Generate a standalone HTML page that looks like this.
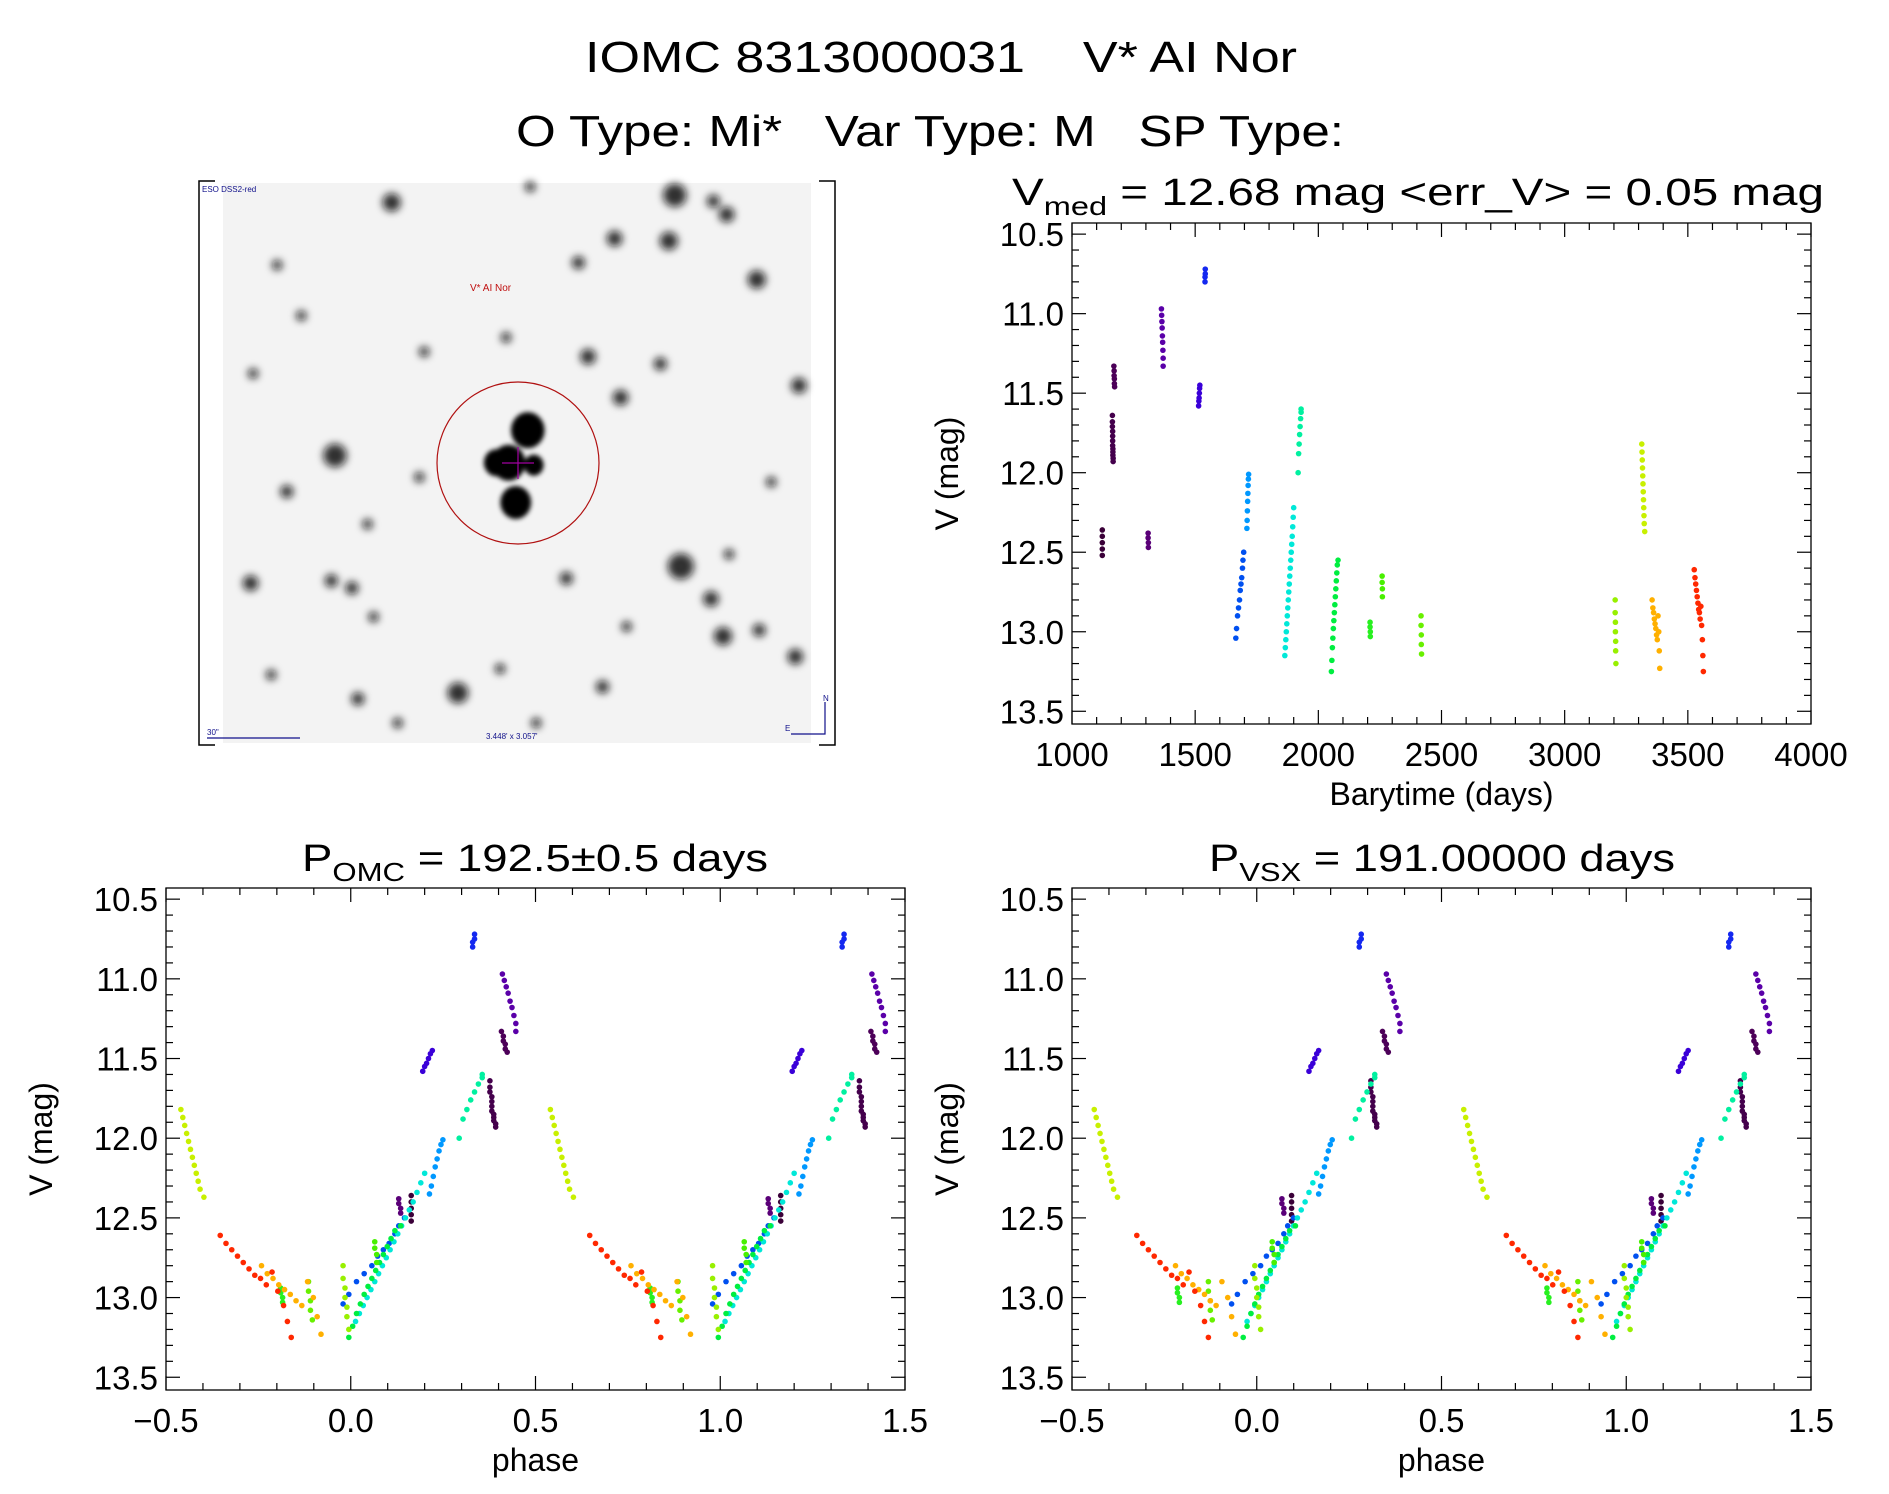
<!DOCTYPE html>
<html><head><meta charset="utf-8"><style>
html,body{margin:0;padding:0;background:#fff;}
svg{display:block;font-family:"Liberation Sans",sans-serif;}
text{white-space:pre;}
</style></head><body>
<svg id="root" width="1889" height="1494" viewBox="0 0 1889 1494" xmlns="http://www.w3.org/2000/svg">
<defs><filter id="blur" x="-50%" y="-50%" width="200%" height="200%"><feGaussianBlur stdDeviation="4"/></filter>
<filter id="blur2" x="-50%" y="-50%" width="200%" height="200%"><feGaussianBlur stdDeviation="2.5"/></filter></defs>
<text x="941" y="72" font-size="44" text-anchor="middle" textLength="712" lengthAdjust="spacingAndGlyphs" xml:space="preserve">IOMC 8313000031    V* AI Nor</text>
<text x="930" y="146" font-size="44" text-anchor="middle" textLength="828" lengthAdjust="spacingAndGlyphs" xml:space="preserve">O Type: Mi*   Var Type: M   SP Type:</text>
<g id="img"></g>
<g id="p1"></g>
<g id="p2"></g>
<g id="p3"></g>
</svg>
<script>
// Light-curve data: one array per season (barytime days), magnitudes, and colors
const seasonTimes = [
 [1123,1123,1123,1123,1123],
 [1164,1164,1164,1165,1165,1165,1165,1166,1166,1166,1167,1167],
 [1170,1171,1171,1172,1172,1173],
 [1309,1309,1310,1310],
 [1363,1364,1365,1366,1367,1368,1369,1370,1370],
 [1514,1515,1516,1517,1518,1519],
 [1540,1540,1541,1541],
 [1665,1668,1672,1676,1680,1683,1686,1689,1692,1694,1697],
 [1710,1711,1712,1713,1714,1715,1716,1717],
 [1864,1866,1868,1870,1872,1874,1876,1878,1880,1882,1884,1886,1888,1890,1892,1894,1896,1898,1900],
 [1918,1920,1922,1924,1926,1928,1930,1930],
 [2053,2055,2057,2059,2061,2063,2065,2067,2069,2071,2073,2075,2077,2080],
 [2210,2210,2211,2211],
 [2259,2259,2260,2260],
 [2417,2417,2418,2418,2419],
 [3205,3205,3206,3206,3207,3207,3208],
 [3313,3314,3315,3316,3317,3318,3319,3320,3321,3322,3323,3325],
 [3355,3358,3361,3364,3367,3370,3373,3376,3379,3382,3384,3386],
 [3526,3529,3532,3535,3538,3541,3544,3547,3550,3553,3556,3559,3561,3563]
];
const seasonMags = [
 [12.36,12.40,12.44,12.48,12.52],
 [11.64,11.68,11.71,11.74,11.77,11.80,11.83,11.85,11.87,11.89,11.91,11.93],
 [11.33,11.36,11.39,11.41,11.44,11.46],
 [12.38,12.41,12.44,12.47],
 [10.97,11.01,11.05,11.09,11.14,11.18,11.23,11.28,11.33],
 [11.58,11.55,11.53,11.50,11.47,11.45],
 [10.80,10.77,10.75,10.72],
 [13.04,12.98,12.90,12.85,12.80,12.74,12.70,12.66,12.60,12.55,12.50],
 [12.35,12.30,12.24,12.18,12.13,12.08,12.04,12.01],
 [13.15,13.10,13.05,13.00,12.95,12.90,12.85,12.80,12.75,12.70,12.65,12.60,12.55,12.50,12.45,12.40,12.34,12.28,12.22],
 [12.00,11.88,11.82,11.76,11.71,11.66,11.62,11.60],
 [13.25,13.18,13.10,13.04,12.98,12.93,12.88,12.83,12.78,12.73,12.68,12.63,12.58,12.55],
 [12.94,12.97,13.00,13.03],
 [12.65,12.69,12.73,12.78],
 [12.90,12.96,13.02,13.08,13.14],
 [12.80,12.88,12.94,13.00,13.06,13.12,13.20],
 [11.82,11.87,11.92,11.97,12.02,12.07,12.12,12.17,12.22,12.27,12.32,12.37],
 [12.80,12.85,12.88,12.92,12.95,12.98,13.02,13.05,12.90,13.00,13.12,13.23],
 [12.61,12.66,12.70,12.74,12.78,12.82,12.86,12.88,12.92,12.84,12.96,13.05,13.15,13.25]
];
const seasonColors = ["#3a0038","#44004c","#4c0058","#5a0078","#5a00a8","#3a00d8","#1428f0","#0050f0","#0098ff","#00e8d8","#00f0a0","#00ee40","#28f020","#48f000","#68f000","#98f000","#c8f000","#ffb000","#ff2800"];
const xTicks1 = [1000,1500,2000,2500,3000,3500,4000];
const yTicks = [10.5,11.0,11.5,12.0,12.5,13.0,13.5];
const phaseTicks = [-0.5,0.0,0.5,1.0,1.5];
const periods = [192.5, 191.0];
const epochs = [1284, 1296];

const NS="http://www.w3.org/2000/svg";
function el(tag,attrs,parent,text){const e=document.createElementNS(NS,tag);for(const k in attrs)e.setAttribute(k,attrs[k]);if(text!==undefined)e.textContent=text;parent.appendChild(e);return e;}

function drawAxes(g,box,xmin,xmax,ymin,ymax,xt,xMinor,xfmt,xlab,ylab){
  const sx=v=>box.x0+(v-xmin)/(xmax-xmin)*(box.x1-box.x0);
  const sy=v=>box.y0+(v-ymin)/(ymax-ymin)*(box.y1-box.y0);
  const fr=el('rect',{x:box.x0,y:box.y0,width:box.x1-box.x0,height:box.y1-box.y0,fill:'none',stroke:'#000','stroke-width':1.3},g);
  
  
  const tk=el('g',{stroke:'#000','stroke-width':1.2},g);
  
  
  for(let v=xmin;v<=xmax+1e-9;v+=xMinor){
    const major=xt.some(t=>Math.abs(t-v)<1e-6);const L=major?14:7;const x=sx(v);
    el('line',{x1:x,y1:box.y1,x2:x,y2:box.y1-L},tk);el('line',{x1:x,y1:box.y0,x2:x,y2:box.y0+L},tk);
  }
  for(let v=10.5;v<=13.5+1e-9;v+=0.1){
    const major=yTicks.some(t=>Math.abs(t-v)<1e-6);const L=major?14:7;const y=sy(v);
    el('line',{x1:box.x0,y1:y,x2:box.x0+L,y2:y},tk);el('line',{x1:box.x1,y1:y,x2:box.x1-L,y2:y},tk);
  }
  xt.forEach(v=>{const t=el('text',{x:sx(v),y:box.y1+42,'font-size':33,'text-anchor':'middle'},g,xfmt(v));
    
    });
  yTicks.forEach(v=>{const t=el('text',{x:box.x0-8,y:sy(v)+12,'font-size':33,'text-anchor':'end'},g,v.toFixed(1));
    
    });
  const xl=el('text',{x:(box.x0+box.x1)/2,y:box.y1+81,'font-size':32,'text-anchor':'middle'},g,xlab);
  
  
  const cy=(box.y0+box.y1)/2, cx=box.x0-114;
  const yl=el('text',{x:cx,y:cy,'font-size':32,'text-anchor':'middle',transform:`rotate(-90 ${cx} ${cy})`},g,ylab);
  
  
  return {sx,sy};
}
function title(g,x,y,main,sub,rest,w){
  const t=el('text',{x:x,y:y,'font-size':38,'text-anchor':'middle',textLength:w,lengthAdjust:'spacingAndGlyphs'},g);
  
  
  el('tspan',{},t,main);el('tspan',{'font-size':26,dy:10},t,sub);el('tspan',{dy:-10},t,rest);
}
const YMIN=10.43,YMAX=13.58;
// Panel 1: light curve
const g1=document.getElementById('p1');
const b1={x0:1072,x1:1811,y0:223,y1:724};
const a1=drawAxes(g1,b1,1000,4000,YMIN,YMAX,xTicks1,100,v=>String(v),'Barytime (days)','V (mag)');
title(g1,1418,205,'V','med',' = 12.68 mag <err_V> = 0.05 mag',812);
const pts1=el('g',{},g1);


seasonTimes.forEach((ts,i)=>ts.forEach((t,j)=>{
  const c=el('circle',{cx:a1.sx(t),cy:a1.sy(seasonMags[i][j]),r:2.8,fill:seasonColors[i]},pts1);
  
  
}));
// Phase panels
function phasePanel(id,box,P,T0,sub,rest,tx,tw){
  const g=document.getElementById(id);
  const a=drawAxes(g,box,-0.5,1.5,YMIN,YMAX,phaseTicks,0.1,v=>(v<0?'\u22120.5':v.toFixed(1)),'phase','V (mag)');
  title(g,tx,871,'P',sub,rest,tw);
  const pg=el('g',{},g);
  
  
  seasonTimes.forEach((ts,i)=>ts.forEach((t,j)=>{
    let ph=((t-T0)/P)%1; if(ph<0)ph+=1; if(ph>=0.5)ph-=1;
    [ph,ph+1].forEach(p=>{
      const c=el('circle',{cx:a.sx(p),cy:a.sy(seasonMags[i][j]),r:2.8,fill:seasonColors[i]},pg);
      
      
    });
  }));
}
phasePanel('p2',{x0:166,x1:905,y0:888,y1:1390},periods[0],epochs[0],'OMC',' = 192.5\u00b10.5 days',535,466);
phasePanel('p3',{x0:1072,x1:1811,y0:888,y1:1390},periods[1],epochs[1],'VSX',' = 191.00000 days',1442,466);

// Sky image
const gi=document.getElementById('img');
el('rect',{x:199,y:181,width:636,height:564,fill:'#fff'},gi);
el('rect',{x:223,y:183,width:588,height:560,fill:'#f3f3f3'},gi);
el('path',{d:'M215 181 H199 V745 H215 M819 181 H835 V745 H819',fill:'none',stroke:'#000','stroke-width':1.5},gi);
const stars=[[325,168,7],[560,162,9],[603,178,6],[510,198,6],[480,218,5],[628,232,7],[548,302,5],[663,320,6],[278,378,9],[348,396,4],[488,296,6],[515,330,6],[565,470,10],[590,497,6],[600,528,7],[292,488,5],[208,484,6],[470,480,5],[380,575,8],[297,580,5],[225,560,4],[660,545,6],[630,523,5],[238,408,5],[592,167,5],[440,155,4],[352,292,4],[420,280,4],[275,482,5],[305,435,4],[415,555,4],[500,570,5],[230,220,4],[250,262,4],[640,400,4],[520,520,4],[310,512,4],[605,460,4],[555,200,7],[210,310,4],[445,600,4],[330,600,4]];
const sg=el('g',{filter:'url(#blur)'},gi);
stars.forEach(s=>el('circle',{cx:s[0]*1.205,cy:s[1]*1.205,r:s[2]*1.3,fill:'#111',opacity:0.85},sg));
const cg=el('g',{filter:'url(#blur2)'},gi);
[[438,357,12],[422,384,12],[428,417,11],[412,384,9],[443,386,7]].forEach(s=>el('ellipse',{cx:s[0]*1.205,cy:s[1]*1.205,rx:s[2]*1.4,ry:s[2]*1.5,fill:'#000'},cg));
el('circle',{cx:518,cy:463,r:81,fill:'none',stroke:'#b01010','stroke-width':1.2},gi);
el('path',{d:'M502 463 H534 M518 447 V479',stroke:'#a000a0','stroke-width':1.2},gi);
const t1=el('text',{x:470,y:291,'font-size':10,fill:'#c01010'},gi,'V* AI Nor');


el('text',{x:202,y:192,'font-size':8,fill:'#10108a'},gi,'ESO DSS2-red');
el('text',{x:207,y:735,'font-size':8,fill:'#10108a'},gi,'30"');
el('line',{x1:207,y1:738,x2:300,y2:738,stroke:'#10108a','stroke-width':1.2},gi);
el('text',{x:486,y:739,'font-size':8,fill:'#10108a'},gi,"3.448' x 3.057'");
el('path',{d:'M791 734 H825 V702',fill:'none',stroke:'#10108a','stroke-width':1.2},gi);
el('text',{x:823,y:701,'font-size':8,fill:'#10108a'},gi,'N');
el('text',{x:785,y:731,'font-size':8,fill:'#10108a'},gi,'E');
</script>
</body></html>
